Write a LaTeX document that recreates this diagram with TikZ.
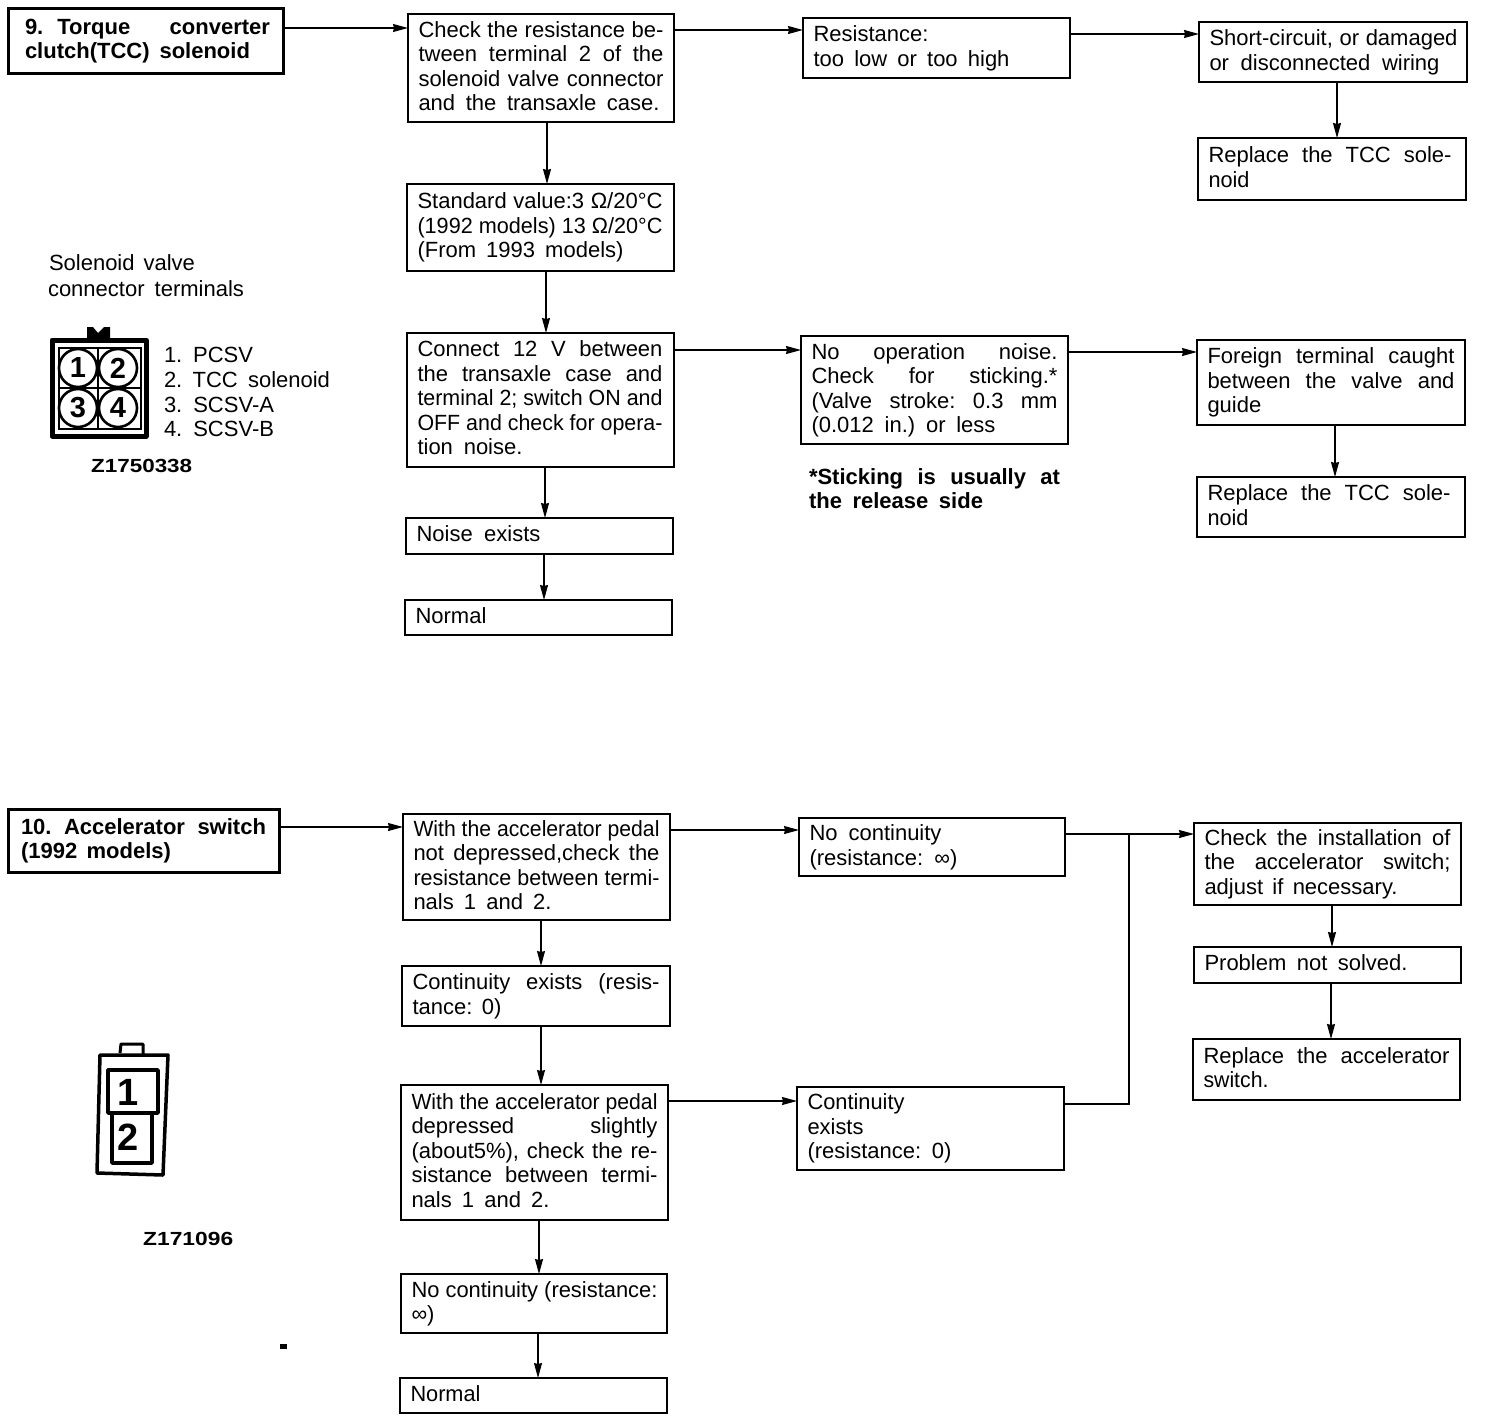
\documentclass[tikz,border=0pt]{standalone}
\usepackage{fontspec}
\usepackage{graphicx}
\setmainfont{Liberation Sans}
\usetikzlibrary{arrows.meta}
\newsavebox\linebx
\newcommand\W[2]{\begingroup\frenchspacing\spaceskip=0pt\xspaceskip=0pt\sbox\linebx{#2}%
  \ifdim\wd\linebx>#1pt\relax
    \pgfmathsetmacro\lineratio{#1/\wd\linebx}%
    \scalebox{\lineratio}[1]{\usebox\linebx}%
  \else
    \makebox[#1pt][s]{#2}%
  \fi\rule[-6.35pt]{0pt}{24.5pt}\endgroup}
\newcommand\mkbx[8]{%
  \pgfmathsetmacro\bw{#6-#4}\pgfmathsetmacro\bh{#7-#5}%
  \node[#1,inner xsep=#2pt,minimum width=\bw pt,minimum height=\bh pt,text width=\bw pt-#2pt-#2pt,anchor=north west] (#3) at (#4,#5) {#8};}
\newcommand\bx[6]{\mkbx{boxline}{10.5}{#1}{#2}{#3}{#4}{#5}{#6}}
\tikzset{
  base/.style={font=\fontsize{22}{24.5}\selectfont,align=left,outer sep=0pt},
  boxline/.style={base,draw,line width=1.3pt,inner ysep=0pt},
  titlebox/.style={base,draw,line width=3pt,inner ysep=0pt},
  txt/.style={base,inner sep=0pt,anchor=base west},
  arr/.style={line width=1.2pt,-{Stealth[length=15pt,width=8pt,inset=1pt]}},
  link/.style={line width=1.2pt},
  pin/.style={font=\fontsize{29}{29}\selectfont\bfseries,inner sep=0pt},
  code/.style={font=\fontsize{19}{22}\selectfont\bfseries,inner sep=0pt,anchor=base west},
  icon/.style={line width=3.5pt,line join=round},
  bignum/.style={inner sep=0pt,font=\fontsize{38}{38}\selectfont\bfseries},
}
\begin{document}
\begin{tikzpicture}[x=1pt,y=-1pt]
\useasboundingbox (0,0) rectangle (1504,1422);
% --- section 9
\mkbx{titlebox}{17}{Aa}{8}{8}{283}{73}{\W{245}{\bfseries 9.\kern14pt Torque converter}\\\W{225}{\bfseries clutch(TCC) solenoid}}
\bx{Ab}{408}{14}{674}{122}{\W{245}{Check the resistance be-}\\\W{245}{tween terminal 2 of the}\\\W{245}{solenoid valve connector}\\\W{241}{and the transaxle case.}}
\bx{Ac}{407}{184}{674}{271}{\W{245}{Standard value:3 Ω/20°C}\\\W{245}{(1992 models) 13 Ω/20°C}\\\W{206}{(From 1993 models)}}
\bx{Ad}{407}{333}{674}{467}{\W{245}{Connect 12 V between}\\\W{245}{the transaxle case and}\\\W{245}{terminal 2; switch ON and}\\\W{245}{OFF and check for opera-}\\\W{105}{tion noise.}}
\bx{Ae}{406}{518}{673}{554}{\W{124}{Noise exists}}
\bx{Af}{405}{600}{672}{635}{\W{71}{Normal}}
\bx{Ba}{803}{18}{1070}{78}{\W{115}{Resistance:}\\\W{196}{too low or too high}}
\bx{Ca}{1199}{22}{1467}{82}{\W{248}{Short-circuit, or damaged}\\\W{230}{or disconnected wiring}}
\bx{Cb}{1198}{138}{1466}{200}{\W{243}{Replace the TCC sole-}\\\W{41}{noid}}
\bx{Bb}{801}{336}{1068}{444}{\W{246}{No operation noise.}\\\W{246}{Check for sticking.*}\\\W{246}{(Valve stroke: 0.3 mm}\\\W{184}{(0.012 in.) or less}}
\bx{Cc}{1197}{340}{1465}{425}{\W{247}{Foreign terminal caught}\\\W{247}{between the valve and}\\\W{54}{guide}}
\bx{Cd}{1197}{477}{1465}{537}{\W{243}{Replace the TCC sole-}\\\W{41}{noid}}
\draw[arr] (Aa.east |- 0,28) -- (Ab.west |- 0,28);
\draw[arr] (Ab.east |- 0,30) -- (Ba.west |- 0,30);
\draw[arr] (Ba.east |- 0,34) -- (Ca.west |- 0,34);
\draw[arr] (Ca.south -| 1337,0) -- (Cb.north -| 1337,0);
\draw[arr] (Ab.south -| 547,0) -- (Ac.north -| 547,0);
\draw[arr] (Ac.south -| 546,0) -- (Ad.north -| 546,0);
\draw[arr] (Ad.south -| 545,0) -- (Ae.north -| 545,0);
\draw[arr] (Ae.south -| 544,0) -- (Af.north -| 544,0);
\draw[arr] (Ad.east |- 0,350) -- (Bb.west |- 0,350);
\draw[arr] (Bb.east |- 0,352) -- (Cc.west |- 0,352);
\draw[arr] (Cc.south -| 1335,0) -- (Cd.north -| 1335,0);
\node[txt] (note1) at (809,484) {\W{251}{\bfseries *Sticking is usually at}};
\node[txt] (note2) at (809,508) {\W{174}{\bfseries the release side}};
\node[txt] (sv1) at (49,270) {\W{146}{Solenoid valve}};
\node[txt] (sv2) at (48,296) {\W{196}{connector terminals}};
\node[txt] (t1) at (164,362) {\W{89}{1. PCSV}};
\node[txt] (t2) at (164,387) {\W{166}{2. TCC solenoid}};
\node[txt] (t3) at (164,412) {\W{110}{3. SCSV-A}};
\node[txt] (t4) at (164,436) {\W{110}{4. SCSV-B}};
\node[code] (zA) at (91,472) {\scalebox{1.18}[1]{Z1750338}};
% connector icon 1
\draw[line width=5pt,line join=round] (52,340) rectangle (146,436);
\draw[line width=2pt] (59,348) rectangle (141,429);
\draw[line width=1.5pt] (98,348) -- (98,429) (59,388) -- (141,388);
\fill (87,338) -- (87,327) -- (93,327) -- (98,333) -- (104,327) -- (110,327) -- (110,338) -- cycle;
\foreach \cx/\cy/\cn in {78/368/1,118/368/2,78/408/3,118/408/4}{
  \node[pin,circle,draw,line width=2.6pt,fill=white,minimum size=38pt] (pin\cn) at (\cx,\cy) {\cn};
}
% --- section 10
\mkbx{titlebox}{13}{Da}{8}{809}{279}{872}{\W{245}{\bfseries 10. Accelerator switch}\\\W{150}{\bfseries (1992 models)}}
\bx{Db}{403}{814}{670}{920}{\W{246}{With the accelerator pedal}\\\W{246}{not depressed,check the}\\\W{246}{resistance between termi-}\\\W{138}{nals 1 and 2.}}
\bx{Dc}{402}{966}{670}{1026}{\W{247}{Continuity exists (resis-}\\\W{89}{tance: 0)}}
\bx{Dd}{401}{1085}{668}{1220}{\W{246}{With the accelerator pedal}\\\W{246}{depressed slightly}\\\W{246}{(about5\%), check the re-}\\\W{246}{sistance between termi-}\\\W{138}{nals 1 and 2.}}
\bx{De}{401}{1274}{667}{1333}{\W{246}{No continuity (resistance:}\\\W{23}{∞)}}
\bx{Df}{400}{1378}{667}{1413}{\W{70}{Normal}}
\bx{Ea}{799}{818}{1065}{876}{\W{132}{No continuity}\\\W{148}{(resistance: ∞)}}
\bx{Eb}{797}{1087}{1064}{1170}{\W{97}{Continuity}\\\W{56}{exists}\\\W{144}{(resistance: 0)}}
\bx{Fa}{1194}{823}{1461}{905}{\W{246}{Check the installation of}\\\W{246}{the accelerator switch;}\\\W{193}{adjust if necessary.}}
\bx{Fb}{1194}{947}{1461}{983}{\W{203}{Problem not solved.}}
\bx{Fc}{1193}{1039}{1460}{1100}{\W{246}{Replace the accelerator}\\\W{65}{switch.}}
\coordinate (jn) at (1129,834);
\draw[arr] (Da.east |- 0,827) -- (Db.west |- 0,827);
\draw[arr] (Db.east |- 0,830) -- (Ea.west |- 0,830);
\draw[arr] (Ea.east |- jn) -- (Fa.west |- jn);
\draw[arr] (Db.south -| 541,0) -- (Dc.north -| 541,0);
\draw[arr] (Dc.south -| 541,0) -- (Dd.north -| 541,0);
\draw[arr] (Dd.south -| 539,0) -- (De.north -| 539,0);
\draw[arr] (De.south -| 538,0) -- (Df.north -| 538,0);
\draw[arr] (Dd.east |- 0,1101) -- (Eb.west |- 0,1101);
\draw[link] (Eb.east |- 0,1104) -| (jn);
\draw[arr] (Fa.south -| 1332,0) -- (Fb.north -| 1332,0);
\draw[arr] (Fb.south -| 1331,0) -- (Fc.north -| 1331,0);
% connector icon 2
\draw[icon] (100,1055) -- (168,1055) -- (163,1175) -- (97,1173) -- cycle;
\draw[line width=3pt,line join=round] (120,1053) -- (121,1044) -- (143,1044) -- (143,1054);
\draw[icon] (112,1113) rectangle (152,1163);
\draw[icon] (108,1070) rectangle (158,1113);
\node[bignum] (pa) at (128,1092) {1};
\node[bignum] (pb) at (128,1137) {2};
\node[code] (zB) at (143,1245) {\scalebox{1.2}[1]{Z171096}};
\fill (280,1344) rectangle (287,1349);
\end{tikzpicture}
\end{document}
